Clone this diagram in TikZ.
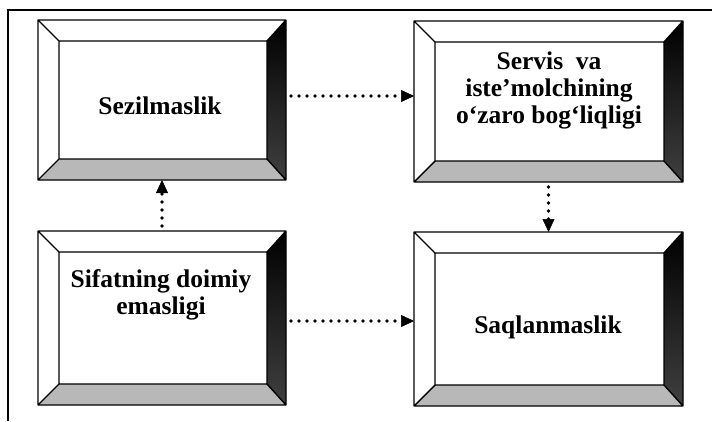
\documentclass[tikz,border=0pt]{standalone}
\usepackage{fontspec}
\setmainfont{Liberation Serif}
\usetikzlibrary{calc,arrows.meta}
\definecolor{bottomgray}{gray}{0.72}
\newcommand\bevelbox[1]{%
 \coordinate (#1nw) at ($(#1.north west)+(21,21)$);
 \coordinate (#1ne) at ($(#1.north east)+(-19,21)$);
 \coordinate (#1sw) at ($(#1.south west)+(21,-21)$);
 \coordinate (#1se) at ($(#1.south east)+(-19,-21)$);
 \fill[white] (#1.north west) -- (#1.north east) -- (#1ne) -- (#1nw) -- cycle;
 \fill[bottomgray] (#1.south west) -- (#1.south east) -- (#1se) -- (#1sw) -- cycle;
 \shade[top color=black,bottom color=black!75] (#1.north east) -- (#1.south east) -- (#1se) -- (#1ne) -- cycle;
 \draw[boxline] (#1.north west) rectangle (#1.south east) (#1nw) rectangle (#1se)
   (#1.north west) -- (#1nw) (#1.north east) -- (#1ne)
   (#1.south west) -- (#1sw) (#1.south east) -- (#1se);
}
\begin{document}
\begin{tikzpicture}[x=1pt,y=-1pt,
  boxo/.style={rectangle,inner sep=0pt,outer sep=0pt,minimum width=248pt,minimum height=#1},
  boxo/.default=160pt,
  boxline/.style={line width=1.4pt,line join=round},
  lbl/.style={font=\fontsize{25.5}{27}\selectfont\bfseries,align=center,inner sep=0pt},
  dotarrow/.style={line width=3.8pt,dash pattern=on 0pt off 8pt,line cap=round,
     -{Triangle[length=13pt,width=12pt,line width=0.5pt]},shorten <=5pt}]
\useasboundingbox (0,0) rectangle (712,421);
\draw[line width=1.4pt] (8,421) -- (8,10) -- (712,10);
% boxes
\node[boxo=160pt] (b1) at (162,100) {};
\node[boxo=161pt,minimum width=269pt] (b2) at (548.5,101.5) {};
\node[boxo=174pt] (b3) at (162,318) {};
\node[boxo=174pt,minimum width=269pt] (b4) at (548.5,319) {};
\bevelbox{b1}
\bevelbox{b2}
\bevelbox{b3}
\bevelbox{b4}
% labels
\node[lbl] (t1) at (160,106) {Sezilmaslik};
\node[lbl] (t2) at (549,90) {Servis\ \ va\\iste’molchining\\o‘zaro bog‘liqligi};
\node[lbl] (t3) at (161,295) {Sifatning doimiy\\emasligi};
\node[lbl] (t4) at (548,327) {Saqlanmaslik};
% connectors
\draw[dotarrow] ([yshift=4pt]b1.east) -- ([yshift=4pt]b1.east -| b2.west);
\draw[dotarrow] ([yshift=-3pt]b3.east) -- ([yshift=-3pt]b3.east -| b4.west);
\draw[dotarrow] (b3.north) -- (b3.north |- b1.south);
\draw[dotarrow] (b2.south) -- (b2.south |- b4.north);
\end{tikzpicture}
\end{document}
